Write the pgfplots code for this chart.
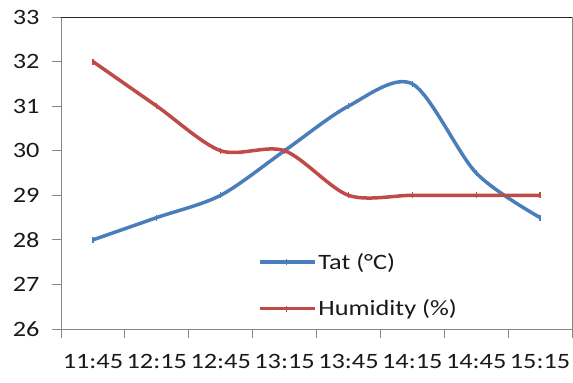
\documentclass[border=0pt]{standalone}
\usepackage{pgfplots}
\pgfplotsset{compat=1.18}
\usepackage{fontspec}
\setmainfont{Carlito}[FakeStretch=1.2]
\definecolor{tatblue}{RGB}{74,126,187}
\definecolor{humred}{RGB}{190,75,72}
\definecolor{axgray}{RGB}{134,134,134}

\begin{document}
\begin{tikzpicture}
\begin{axis}[
  scale only axis, width=511bp, height=312bp,
  xmin=-0.5, xmax=7.5, ymin=26, ymax=33,
  axis x line*=bottom,
  ytick pos=left,
  xtick={-0.5,0.5,...,7.5}, xticklabels={},
  extra x ticks={0,1,2,3,4,5,6,7},
  extra x tick labels={11:45,12:15,12:45,13:15,13:45,14:15,14:45,15:15},
  extra x tick style={major tick length=0pt},
  ytick={26,27,...,33},
  tick align=outside, major tick length=9bp,
  tick style={axgray, line width=1pt},
  axis line style={axgray, line width=1pt},
  ticklabel style={font=\fontsize{22}{22}\selectfont, text=black!90},
  /pgf/number format/assume math mode=true,
  xticklabel style={yshift=-22bp},
  yticklabel style={xshift=-9bp},
  legend style={at={(rel axis cs:0.385,0.03)}, anchor=south west,
    draw=none, fill=none, font=\fontsize{22}{22}\selectfont,
    text=black!90, row sep=25bp, inner sep=0pt},
  legend cell align=left,
  legend image code/.code={
    \draw[mark repeat=2, mark phase=2, #1]
      plot coordinates {(0bp,0bp) (27bp,0bp) (55bp,0bp)};},
  every axis plot/.append style={line width=3.5bp, smooth,
    mark=|, mark size=3bp, mark options={solid, line width=1.2bp}},
]
\addplot[tatblue] coordinates {
  (0,28) (1,28.5) (2,29) (3,30) (4,31) (5,31.5) (6,29.5) (7,28.5)};
\addlegendentry{Tat (°C)}
\addplot[humred] coordinates {
  (0,32) (1,31) (2,30) (3,30) (4,29) (5,29) (6,29) (7,29)};
\addlegendentry{Humidity (\%)}
% dark upper frame edge, running over the top y tick
\draw[black!85, line width=1.3pt] ([xshift=-9bp]rel axis cs:0,1) -- (rel axis cs:1,1);
\coordinate (frameSW) at (rel axis cs:0,0);
\end{axis}
\pgfresetboundingbox
\path ([shift={(-61bp,-54bp)}]frameSW) rectangle ++(573bp,383bp);
\end{tikzpicture}
\end{document}
